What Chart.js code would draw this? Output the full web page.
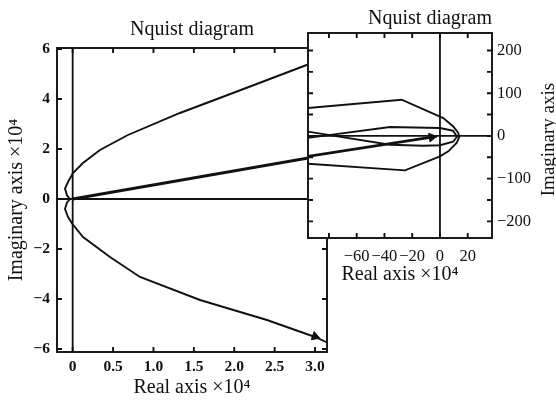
<!DOCTYPE html>
<html>
<head>
<meta charset="utf-8">
<script src="https://cdn.jsdelivr.net/npm/chart.js@4"></script>
<style>
  body { margin: 0; background: #fff; }
  #wrap { position: relative; width: 556px; height: 402px; }
  #main { position: absolute; left: 0; top: 0; }
  #inset { position: absolute; left: 280px; top: 0; }
</style>
</head>
<body>
<div id="wrap">
  <canvas id="main" width="556" height="402"></canvas>
  <canvas id="inset" width="276" height="300"></canvas>
</div>
<script>
// main plot (units of 1e4)
const mainXRange = [-0.194, 3.148];
const mainYRange = [-6.12, 6.04];
const mainXTicks = [0, 0.5, 1.0, 1.5, 2.0, 2.5, 3.0];
const mainXLabels = ["0", "0.5", "1.0", "1.5", "2.0", "2.5", "3.0"];
const mainYTicks = [-6, -4, -2, 0, 2, 4, 6];
const mainYLabels = ["−6", "−4", "−2", "0", "2", "4", "6"];

const curveRe = [3.15, 2.896, 1.984, 1.328, 0.684, 0.338, 0.127, 0.004, -0.058, -0.095, -0.07, -0.033,
                 -0.07, -0.095, -0.06, -0.012, 0.128, 0.462, 0.833, 1.576, 2.405, 3.0, 3.15];
const curveIm = [5.67, 5.36, 4.24, 3.44, 2.56, 1.96, 1.44, 1.04, 0.68, 0.42, 0.14, 0.0,
                 -0.14, -0.40, -0.70, -0.96, -1.52, -2.32, -3.12, -4.04, -4.84, -5.52, -5.74];
const rayRe = [0, 3.15];
const rayIm = [0, 1.77];
const arrowMain = [3.0, -5.5];

// inset (zoom near origin)
const insetXRange = [-95.1, 37.5];
const insetYRange = [-239, 241];
const insetXTicks = [-80, -60, -40, -20, 0, 20];
const insetXLabels = ["", "−60", "−40", "−20", "0", "20"];
const insetYTicks = [-200, -150, -100, -50, 0, 50, 100, 150, 200];
const insetYLabels = ["−200", "", "−100", "", "0", "", "100", "", "200"];

const outerRe = [-96, -27.6, 2.4, 9.6, 13.2, 13.9, 12, 6, 0, -25.2, -96];
const outerIm = [65.3, 84.7, 41.9, 22.2, 6.8, -2.6, -16.6, -36, -48, -80.7, -65];
const innerRe = [-96, -36, -12, 0, 9.4, 12.3, 9.4, 0, -36, -96];
const innerIm = [10.5, -20.6, -23, -21.8, -13.6, -1.9, 12.2, 18.5, 20.8, -4.9];
const insetRayRe = [-96, -2.4];
const insetRayIm = [-48.5, -1.2];
const arrowInset = [-5.9, -3];

const ink = "#111";
const serif = '"Liberation Serif", "DejaVu Serif", serif';

function pts(xs, ys) {
    return xs.map((x, i) => ({x: x, y: ys[i]}));
}

function line(data, width) {
    return {data: data, showLine: true, borderColor: ink, borderWidth: width, pointRadius: 0, fill: false, tension: 0};
}

function arrow(p, rot) {
    return {data: [{x: p[0], y: p[1]}], showLine: false, pointStyle: "triangle", pointRadius: 5,
            rotation: rot, backgroundColor: ink, borderColor: ink, borderWidth: 1};
}

// box round the plot with ticks pointing inward, like matlab
const frame = {
    id: "frame",
    beforeDraw(chart, args, opts) {
        if (!opts.fill) return;
        const a = chart.chartArea;
        chart.ctx.fillStyle = "#fff";
        chart.ctx.fillRect(a.left - 1, a.top - 1, a.width + 2, a.height + 2);
    },
    afterDraw(chart, args, opts) {
        const {ctx, chartArea: a, scales: {x, y}} = chart;
        ctx.save();
        ctx.strokeStyle = ink;
        ctx.lineWidth = 1.9;
        ctx.strokeRect(a.left, a.top, a.width, a.height);
        ctx.beginPath();
        const len = 5;
        x.ticks.forEach(t => {
            const px = x.getPixelForValue(t.value);
            ctx.moveTo(px, a.bottom); ctx.lineTo(px, a.bottom - len);
            ctx.moveTo(px, a.top); ctx.lineTo(px, a.top + len);
        });
        y.ticks.forEach(t => {
            const py = y.getPixelForValue(t.value);
            ctx.moveTo(a.left, py); ctx.lineTo(a.left + len, py);
            ctx.moveTo(a.right, py); ctx.lineTo(a.right - len, py);
        });
        ctx.stroke();
        if (opts.rightTitle) {
            ctx.fillStyle = ink;
            ctx.font = "19px " + serif;
            ctx.textAlign = "center";
            ctx.textBaseline = "middle";
            ctx.translate(a.right + 57, (a.top + a.bottom) / 2 + 4);
            ctx.rotate(-Math.PI / 2);
            ctx.fillText(opts.rightTitle, 0, 0);
        }
        ctx.restore();
    }
};

Chart.defaults.color = ink;
Chart.defaults.font.family = serif;

new Chart(document.getElementById("main"), {
    type: "scatter",
    data: {
        datasets: [
            line(pts([0, 0], mainYRange), 1.8),
            line(pts(mainXRange, [0, 0]), 1.8),
            line(pts(curveRe, curveIm), 1.9),
            line(pts(rayRe, rayIm), 3),
            arrow(arrowMain, 109.5),
        ]
    },
    options: {
        responsive: false,
        animation: false,
        devicePixelRatio: 1,
        layout: {padding: {left: 3, right: 229, top: 10, bottom: 2}},
        scales: {
            x: {
                min: mainXRange[0], max: mainXRange[1],
                afterBuildTicks: s => { s.ticks = mainXTicks.map(v => ({value: v})); },
                afterFit: s => { s.height = 48; },
                grid: {display: false, drawTicks: false},
                border: {display: false},
                ticks: {padding: 6, autoSkip: false, maxRotation: 0, font: {size: 15.5, weight: "bold"},
                        callback: (v, i) => mainXLabels[i]},
                title: {display: true, text: "Real axis ×10⁴", font: {size: 20}, padding: {top: 0, bottom: 0}}
            },
            y: {
                min: mainYRange[0], max: mainYRange[1],
                afterBuildTicks: s => { s.ticks = mainYTicks.map(v => ({value: v})); },
                afterFit: s => { s.width = 54; },
                grid: {display: false, drawTicks: false},
                border: {display: false},
                ticks: {padding: 7, autoSkip: false, font: {size: 15.5, weight: "bold"},
                        callback: (v, i) => mainYLabels[i]},
                title: {display: true, text: "Imaginary axis ×10⁴", font: {size: 20}, padding: {top: 2, bottom: 0}}
            }
        },
        plugins: {
            legend: {display: false},
            tooltip: {enabled: false},
            title: {display: true, fullSize: false, text: "Nquist diagram", font: {size: 20, weight: "normal"},
                    color: ink, padding: {top: 8, bottom: 6}},
            frame: {fill: false}
        }
    },
    plugins: [frame]
});

new Chart(document.getElementById("inset"), {
    type: "scatter",
    data: {
        datasets: [
            line(pts([0, 0], insetYRange), 1.8),
            line(pts(insetXRange, [0, 0]), 1.8),
            line(pts(outerRe, outerIm), 1.9),
            line(pts(innerRe, innerIm), 1.9),
            line(pts(insetRayRe, insetRayIm), 2.8),
            arrow(arrowInset, 81),
        ]
    },
    options: {
        responsive: false,
        animation: false,
        devicePixelRatio: 1,
        layout: {padding: {left: 28, right: 4, top: 4, bottom: 13.6}},
        scales: {
            x: {
                min: insetXRange[0], max: insetXRange[1],
                afterBuildTicks: s => { s.ticks = insetXTicks.map(v => ({value: v})); },
                afterFit: s => { s.height = 48.4; },
                grid: {display: false, drawTicks: false},
                border: {display: false},
                ticks: {padding: 9, autoSkip: false, maxRotation: 0, font: {size: 16.5},
                        callback: (v, i) => insetXLabels[i]},
                title: {display: true, text: "Real axis ×10⁴", font: {size: 20}, padding: {top: 0, bottom: 0}}
            },
            y: {
                position: "right",
                min: insetYRange[0], max: insetYRange[1],
                afterBuildTicks: s => { s.ticks = insetYTicks.map(v => ({value: v})); },
                afterFit: s => { s.width = 60; },
                grid: {display: false, drawTicks: false},
                border: {display: false},
                ticks: {padding: 5, autoSkip: false, font: {size: 16.5},
                        callback: (v, i) => insetYLabels[i]}
            }
        },
        plugins: {
            legend: {display: false},
            tooltip: {enabled: false},
            title: {display: true, text: "Nquist diagram", font: {size: 20, weight: "normal"},
                    color: ink, padding: {top: 3, bottom: 2}},
            frame: {fill: true, rightTitle: "Imaginary axis"}
        }
    },
    plugins: [frame]
});
</script>
</body>
</html>
